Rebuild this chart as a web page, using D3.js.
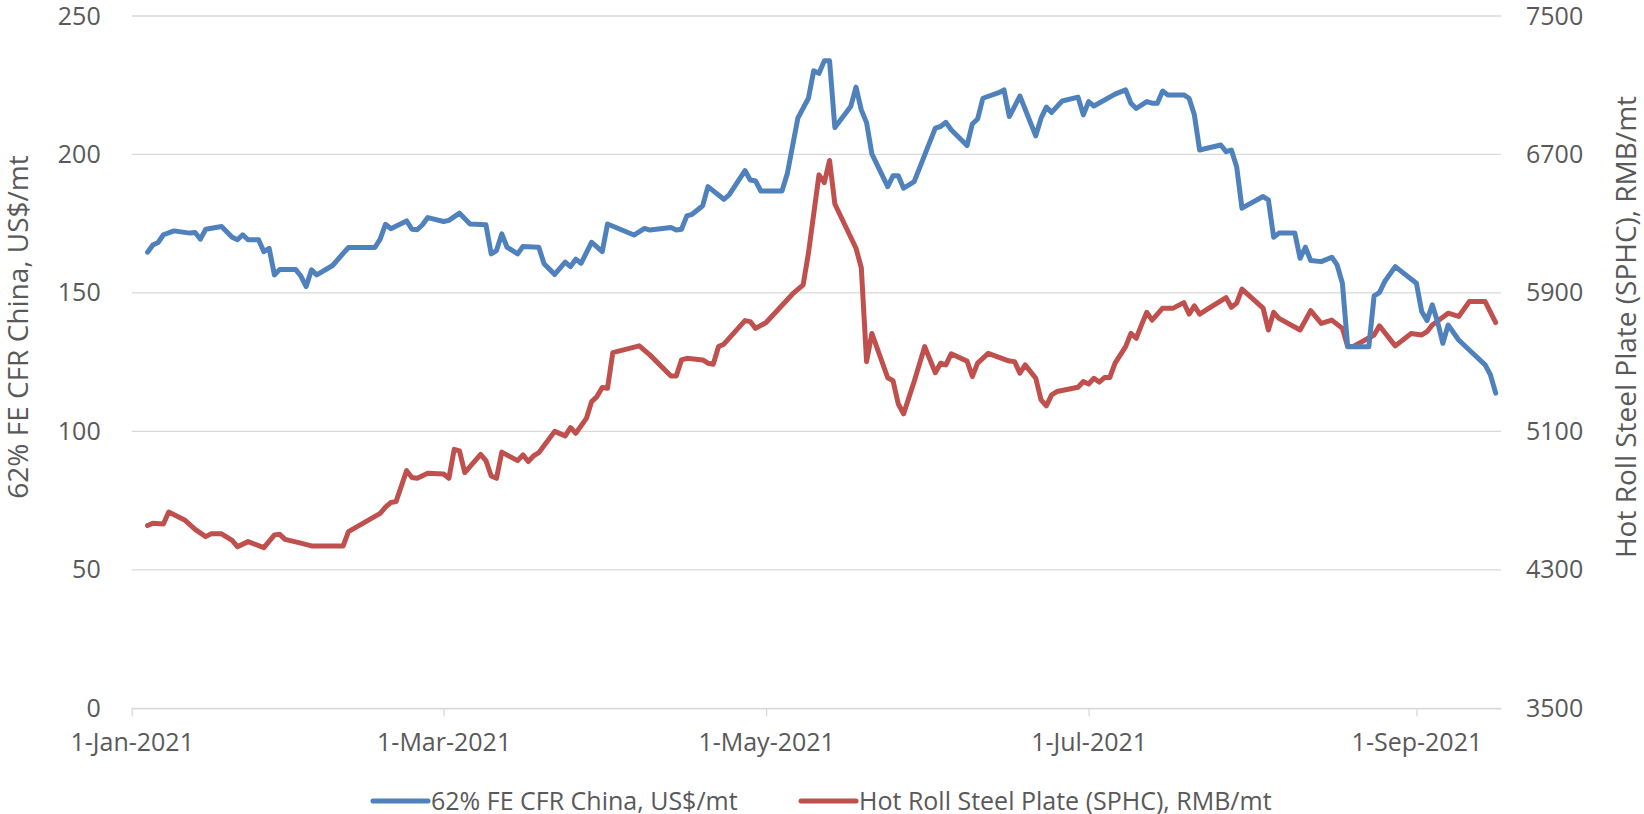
<!DOCTYPE html>
<html>
<head>
<meta charset="utf-8">
<script src="https://cdn.jsdelivr.net/npm/d3@7"></script>
<style>
  body { margin: 0; background: #fff; }
  svg text { font-family: "Open Sans", "Noto Sans", sans-serif; fill: #595959; }
</style>
</head>
<body>
<svg width="1644" height="814"></svg>
<script>
// iron ore, 62% FE CFR China (US$/mt)
var ironDates = ["2021-01-04","2021-01-05","2021-01-06","2021-01-07","2021-01-09","2021-01-12","2021-01-13","2021-01-14","2021-01-15","2021-01-18",
  "2021-01-20","2021-01-21","2021-01-22","2021-01-23","2021-01-25","2021-01-26","2021-01-27","2021-01-28","2021-01-29","2021-02-01",
  "2021-02-02","2021-02-03","2021-02-04","2021-02-05","2021-02-08","2021-02-10","2021-02-11","2021-02-16","2021-02-17","2021-02-18",
  "2021-02-19","2021-02-22","2021-02-23","2021-02-24","2021-02-25","2021-02-26","2021-03-01","2021-03-02","2021-03-04","2021-03-06",
  "2021-03-09","2021-03-10","2021-03-11","2021-03-12","2021-03-13","2021-03-15","2021-03-16","2021-03-19","2021-03-20","2021-03-22",
  "2021-03-24","2021-03-25","2021-03-26","2021-03-27","2021-03-29","2021-03-31","2021-04-01","2021-04-06","2021-04-08","2021-04-09",
  "2021-04-13","2021-04-14","2021-04-15","2021-04-16","2021-04-17","2021-04-19","2021-04-20","2021-04-23","2021-04-24","2021-04-27",
  "2021-04-28","2021-04-29","2021-04-30","2021-05-04","2021-05-05","2021-05-07","2021-05-09","2021-05-10","2021-05-11","2021-05-12",
  "2021-05-13","2021-05-14","2021-05-17","2021-05-18","2021-05-19","2021-05-20","2021-05-21","2021-05-24","2021-05-25","2021-05-26",
  "2021-05-27","2021-05-29","2021-06-02","2021-06-03","2021-06-04","2021-06-05","2021-06-08","2021-06-09","2021-06-10","2021-06-11",
  "2021-06-14","2021-06-15","2021-06-16","2021-06-18","2021-06-21","2021-06-22","2021-06-23","2021-06-24","2021-06-26","2021-06-29",
  "2021-06-30","2021-07-01","2021-07-02","2021-07-06","2021-07-08","2021-07-09","2021-07-10","2021-07-12","2021-07-13","2021-07-14",
  "2021-07-15","2021-07-16","2021-07-19","2021-07-20","2021-07-21","2021-07-22","2021-07-26","2021-07-27","2021-07-28","2021-07-29",
  "2021-07-30","2021-08-03","2021-08-04","2021-08-05","2021-08-06","2021-08-09","2021-08-10","2021-08-11","2021-08-12","2021-08-14",
  "2021-08-16","2021-08-17","2021-08-18","2021-08-19","2021-08-23","2021-08-24","2021-08-25","2021-08-26","2021-08-28","2021-09-01",
  "2021-09-02","2021-09-03","2021-09-04","2021-09-05","2021-09-06","2021-09-07","2021-09-09","2021-09-11","2021-09-14","2021-09-15",
  "2021-09-16"];
var ironValues = [164.7,167.3,168.2,171.0,172.4,171.6,171.8,169.4,173.0,174.0,
  170.1,169.2,171.0,169.2,169.2,164.9,166.1,156.5,158.5,158.5,
  156.1,152.3,158.3,156.5,159.9,164.3,166.4,166.4,169.4,174.8,
  173.2,176.0,173.0,172.8,174.6,177.2,175.8,176.2,178.8,174.9,
  174.6,164.1,165.3,171.3,166.5,164.1,166.8,166.5,160.5,156.7,
  161.1,159.5,162.2,160.7,168.3,164.9,174.9,170.9,173.3,172.7,
  173.6,172.7,173.0,177.8,178.4,181.5,188.4,183.8,185.4,194.2,
  190.8,190.4,186.8,186.8,193.0,213.1,220.3,230.2,229.3,233.8,
  233.8,209.7,217.3,224.3,216.1,211.5,200.2,188.4,192.3,192.3,
  187.8,190.2,209.5,210.1,211.6,208.9,203.2,211.0,212.8,220.3,
  222.3,223.3,213.7,221.1,206.7,213.1,217.1,215.2,219.3,220.7,
  214.3,219.1,217.5,221.8,223.3,218.5,216.6,219.1,218.5,218.5,
  222.9,221.5,221.5,220.3,214.3,201.6,203.4,201.0,201.6,195.6,
  180.6,184.8,183.6,170.1,171.6,171.6,162.5,166.5,161.7,161.3,
  162.9,160.1,153.5,130.6,130.6,148.9,150.1,154.1,159.5,153.5,
  143.3,140.0,145.7,139.6,131.8,138.4,133.0,129.4,124.0,120.4,
  113.8];

// hot roll steel plate SPHC (RMB/mt)
var steelDates = ["2021-01-04","2021-01-05","2021-01-07","2021-01-08","2021-01-11","2021-01-13","2021-01-15","2021-01-16","2021-01-18","2021-01-20",
  "2021-01-21","2021-01-23","2021-01-26","2021-01-28","2021-01-29","2021-01-30","2021-02-02","2021-02-04","2021-02-10","2021-02-11",
  "2021-02-17","2021-02-18","2021-02-19","2021-02-20","2021-02-22","2021-02-23","2021-02-24","2021-02-26","2021-03-01","2021-03-02",
  "2021-03-03","2021-03-04","2021-03-05","2021-03-08","2021-03-09","2021-03-10","2021-03-11","2021-03-12","2021-03-15","2021-03-16",
  "2021-03-17","2021-03-18","2021-03-19","2021-03-22","2021-03-24","2021-03-25","2021-03-26","2021-03-28","2021-03-29","2021-03-30",
  "2021-03-31","2021-04-01","2021-04-02","2021-04-07","2021-04-09","2021-04-13","2021-04-14","2021-04-15","2021-04-16","2021-04-19",
  "2021-04-20","2021-04-21","2021-04-22","2021-04-23","2021-04-27","2021-04-28","2021-04-29","2021-05-01","2021-05-06","2021-05-08",
  "2021-05-09","2021-05-11","2021-05-12","2021-05-13","2021-05-14","2021-05-18","2021-05-19","2021-05-20","2021-05-21","2021-05-24",
  "2021-05-25","2021-05-26","2021-05-27","2021-05-29","2021-05-31","2021-06-02","2021-06-03","2021-06-04","2021-06-05","2021-06-08",
  "2021-06-09","2021-06-10","2021-06-12","2021-06-16","2021-06-17","2021-06-18","2021-06-19","2021-06-21","2021-06-22","2021-06-23",
  "2021-06-24","2021-06-25","2021-06-29","2021-06-30","2021-07-01","2021-07-02","2021-07-03","2021-07-04","2021-07-05","2021-07-06",
  "2021-07-08","2021-07-09","2021-07-10","2021-07-11","2021-07-12","2021-07-13","2021-07-15","2021-07-17","2021-07-19","2021-07-20",
  "2021-07-21","2021-07-22","2021-07-24","2021-07-27","2021-07-28","2021-07-29","2021-07-30","2021-08-03","2021-08-04","2021-08-05",
  "2021-08-06","2021-08-10","2021-08-12","2021-08-14","2021-08-16","2021-08-18","2021-08-19","2021-08-20","2021-08-24","2021-08-25",
  "2021-08-28","2021-08-31","2021-09-02","2021-09-03","2021-09-04","2021-09-07","2021-09-09","2021-09-11","2021-09-14","2021-09-16"];
var steelValues = [4556,4569,4565,4634,4588,4534,4492,4508,4508,4470,
  4434,4463,4428,4502,4505,4476,4454,4438,4438,4521,
  4626,4662,4689,4694,4873,4834,4829,4858,4854,4829,
  4996,4987,4862,4967,4931,4842,4829,4980,4931,4964,
  4926,4958,4977,5100,5074,5122,5089,5175,5272,5301,
  5353,5349,5555,5594,5542,5420,5420,5513,5522,5513,
  5494,5488,5590,5604,5740,5734,5695,5729,5894,5946,
  6129,6582,6537,6665,6414,6158,6046,5503,5666,5410,
  5393,5258,5201,5388,5590,5439,5494,5484,5548,5506,
  5417,5494,5551,5506,5503,5436,5484,5407,5282,5247,
  5311,5330,5355,5388,5374,5407,5385,5411,5411,5494,
  5590,5666,5638,5715,5788,5743,5812,5812,5844,5778,
  5825,5778,5817,5873,5817,5841,5922,5812,5686,5788,
  5753,5686,5798,5724,5743,5695,5590,5590,5657,5710,
  5594,5666,5657,5676,5715,5783,5764,5850,5850,5729];

var xTickDates = ["2021-01-01","2021-03-01","2021-05-01","2021-07-01","2021-09-01"];
var leftTicks = [0, 50, 100, 150, 200, 250];
var rightTicks = [3500, 4300, 5100, 5900, 6700, 7500];

var ironName = "62% FE CFR China, US$/mt",
    steelName = "Hot Roll Steel Plate (SPHC), RMB/mt";

var svg = d3.select("svg"),
    plotL = 131.7, plotR = 1501, plotT = 16, plotB = 708.3;

var parse = d3.timeParse("%Y-%m-%d"),
    fmt = d3.timeFormat("%-d-%b-%Y");

var x = d3.scaleTime()
    .domain([parse("2021-01-01"), parse("2021-09-17")])
    .range([plotL, plotR]);

var yL = d3.scaleLinear().domain([0, 250]).range([plotB, plotT]);
var yR = d3.scaleLinear().domain([3500, 7500]).range([plotB, plotT]);

// gridlines
svg.append("g")
  .selectAll("line")
  .data(leftTicks)
  .enter().append("line")
    .attr("x1", plotL).attr("x2", plotR)
    .attr("y1", function(d) { return yL(d); })
    .attr("y2", function(d) { return yL(d); })
    .attr("stroke", "#d9d9d9")
    .attr("stroke-width", 1.3);

// x axis
var xAxis = svg.append("g")
    .attr("transform", "translate(0," + plotB + ")")
    .call(d3.axisBottom(x)
      .tickValues(xTickDates.map(parse))
      .tickFormat(fmt)
      .tickSizeInner(8)
      .tickSizeOuter(0)
      .tickPadding(17));
xAxis.select(".domain").attr("stroke", "#d9d9d9").attr("stroke-width", 1.3);
xAxis.selectAll(".tick line").attr("stroke", "#d9d9d9").attr("stroke-width", 1.3);
xAxis.selectAll("text").attr("font-size", 25).attr("fill", "#595959");

// left axis
var lAxis = svg.append("g")
    .attr("transform", "translate(" + plotL + ",0)")
    .call(d3.axisLeft(yL).tickValues(leftTicks).tickSize(0).tickPadding(31));
lAxis.select(".domain").remove();
lAxis.selectAll("text").attr("font-size", 25).attr("fill", "#595959");

// right axis
var rAxis = svg.append("g")
    .attr("transform", "translate(" + plotR + ",0)")
    .call(d3.axisRight(yR).tickValues(rightTicks).tickFormat(d3.format("d")).tickSize(0).tickPadding(25));
rAxis.select(".domain").remove();
rAxis.selectAll("text").attr("font-size", 25).attr("fill", "#595959");

// axis titles
svg.append("text")
    .attr("transform", "translate(28,327) rotate(-90)")
    .attr("text-anchor", "middle")
    .attr("font-size", 28)
    .text(ironName);

svg.append("text")
    .attr("transform", "translate(1636,327) rotate(-90)")
    .attr("text-anchor", "middle")
    .attr("font-size", 28)
    .text(steelName);

// series
var iron = ironDates.map(function(d, i) { return {date: parse(d), value: ironValues[i]}; });
var steel = steelDates.map(function(d, i) { return {date: parse(d), value: steelValues[i]}; });

var lineL = d3.line()
    .x(function(d) { return x(d.date); })
    .y(function(d) { return yL(d.value); });
var lineR = d3.line()
    .x(function(d) { return x(d.date); })
    .y(function(d) { return yR(d.value); });

svg.append("path")
    .datum(steel)
    .attr("fill", "none")
    .attr("stroke", "#c0504d")
    .attr("stroke-width", 5)
    .attr("stroke-linejoin", "round")
    .attr("stroke-linecap", "round")
    .attr("d", lineR);

svg.append("path")
    .datum(iron)
    .attr("fill", "none")
    .attr("stroke", "#4f81bd")
    .attr("stroke-width", 5)
    .attr("stroke-linejoin", "round")
    .attr("stroke-linecap", "round")
    .attr("d", lineL);

// legend
var legend = svg.append("g").attr("transform", "translate(0,801)");
var items = [
  {name: ironName, color: "#4f81bd", x: 373},
  {name: steelName, color: "#c0504d", x: 801}
];
var item = legend.selectAll("g")
  .data(items)
  .enter().append("g")
    .attr("transform", function(d) { return "translate(" + d.x + ",0)"; });
item.append("line")
    .attr("x1", 0).attr("x2", 55)
    .attr("stroke", function(d) { return d.color; })
    .attr("stroke-width", 5)
    .attr("stroke-linecap", "round");
item.append("text")
    .attr("x", 58)
    .attr("dy", "0.35em")
    .attr("font-size", 25)
    .text(function(d) { return d.name; });
</script>
</body>
</html>
